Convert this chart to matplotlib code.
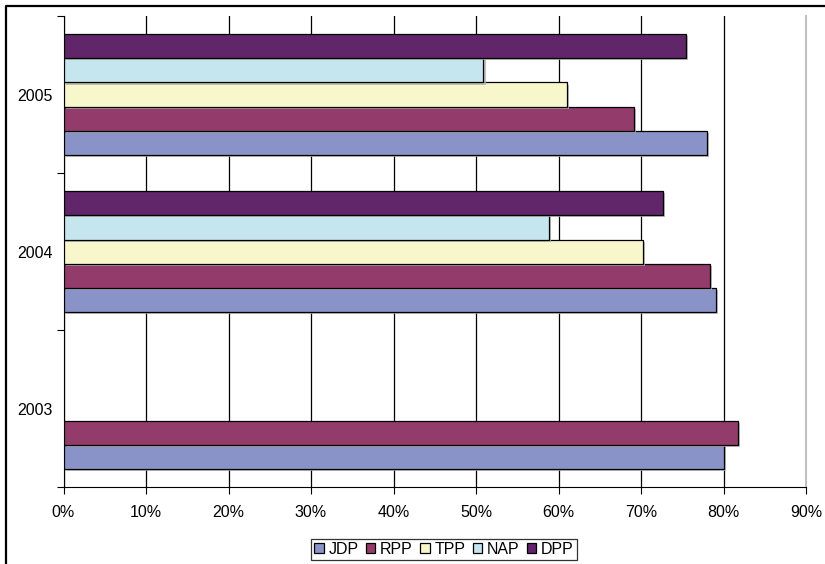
import numpy as np
import matplotlib.pyplot as plt
import matplotlib.patheffects as pe
from matplotlib.lines import Line2D

plt.rcParams['font.family'] = ['Liberation Sans', 'DejaVu Sans']

years = ['2003', '2004', '2005']
parties = ['JDP', 'RPP', 'TPP', 'NAP', 'DPP']
colors = ['#8a93c8', '#933b6b', '#f8f7cb', '#c5e6ee', '#61256a']

# percentages per party, order follows years
jdp = [80.0, 79.1, 78.0]
rpp = [81.7, 78.4, 69.2]
tpp = [np.nan, 70.2, 61.0]
nap = [np.nan, 58.8, 50.9]
dpp = [np.nan, 72.7, 75.5]
values = [jdp, rpp, tpp, nap, dpp]

W, H = 825, 564
fig = plt.figure(figsize=(W / 100, H / 100), dpi=100)
ax = fig.add_axes([63.5 / W, 1 - 487.3 / H, (806 - 63.5) / W, (487.3 - 16) / H])

# outer chart border (only left and top edges are visible in the crop)
fig.lines.append(Line2D([5.5 / W, 5.5 / W, 1], [0, 1 - 5.5 / H, 1 - 5.5 / H],
                        transform=fig.transFigure, color='black', linewidth=1.6))

y = np.arange(len(years))
h = 1 / 6.5
shadow = [pe.SimplePatchShadow(offset=(1.5, -1.5), shadow_rgbFace='#b0b0b0', alpha=0.8),
          pe.Normal()]
for i, (name, vals, c) in enumerate(zip(parties, values, colors)):
    bars = ax.barh(y + (i - 2) * h, vals, height=h, color=c, edgecolor='black',
                   linewidth=0.9, label=name, zorder=3)
    for b in bars:
        b.set_path_effects(shadow)

ax.set_xlim(0, 90)
ax.set_ylim(-0.5, 2.5)
ax.set_xticks(np.arange(0, 91, 10))
ax.set_xticklabels([f'{v}%' for v in range(0, 91, 10)])
ax.xaxis.grid(True, color='black', linewidth=0.9, zorder=0)
ax.set_axisbelow(True)

ax.set_yticks([-0.5, 0.5, 1.5, 2.5])
ax.set_yticklabels([])
ax.set_yticks(y, minor=True)
ax.set_yticklabels(years, minor=True)
ax.tick_params(axis='y', which='minor', length=0, pad=8)
ax.tick_params(axis='y', which='major', length=5, direction='out')
ax.tick_params(axis='x', length=5, direction='out', pad=8)
ax.tick_params(which='both', labelsize=11.5)

ax.spines['top'].set_visible(False)
ax.spines['right'].set_color('#c0c0c0')
ax.spines['right'].set_linewidth(1.5)
ax.spines['left'].set_color('black')
ax.spines['bottom'].set_color('black')

leg = fig.legend(loc='center', bbox_to_anchor=(444 / W, 1 - 549.5 / H), ncol=5,
                 frameon=True, fancybox=False, edgecolor='black', fontsize=11.5,
                 handlelength=0.6, handleheight=0.6, handletextpad=0.3,
                 columnspacing=0.45, borderpad=0.2, borderaxespad=0)
leg.get_frame().set_linewidth(0.9)
for hnd in leg.legend_handles:
    hnd.set_path_effects([])

fig.savefig('out.png', dpi=100)
